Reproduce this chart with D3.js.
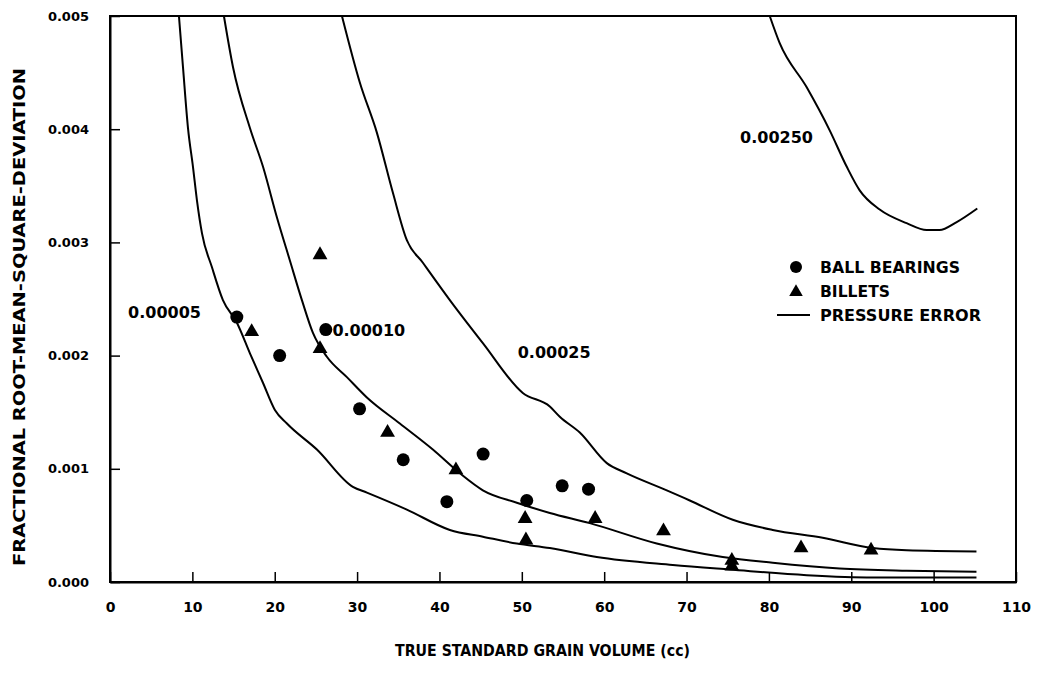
<!DOCTYPE html>
<html>
<head>
<meta charset="utf-8">
<script src="https://cdn.jsdelivr.net/npm/d3@7"></script>
<style>
  html, body { margin: 0; padding: 0; background: #fff; }
  svg { display: block; }
</style>
</head>
<body>
<svg id="chart" width="1039" height="673"></svg>
<script>
// ---------- data ----------
const xTicks = [0, 10, 20, 30, 40, 50, 60, 70, 80, 90, 100, 110];
const yTicks = [0, 0.001, 0.002, 0.003, 0.004, 0.005];
const yTickLabels = ["0.000", "0.001", "0.002", "0.003", "0.004", "0.005"];

const curve00005 = [
  [8.37,0.00500],[8.86,0.00455],[9.47,0.00401],[10.07,0.00367],[10.56,0.00337],[11.17,0.00308],
  [12.38,0.00278],[13.71,0.00249],[15.41,0.00229],[16.99,0.00202],[18.57,0.00176],[20.02,0.00152],
  [21.48,0.00140],[25.12,0.00117],[29.49,0.00084],[31.19,0.00079],[36.04,0.00064],[41.26,0.00046],
  [45.27,0.00040],[49.39,0.00034],[53.40,0.00030],[59.10,0.00022],[68.33,0.00015],[75.24,0.00011],
  [84.59,0.00006],[92.60,0.00004],[105.2,0.00004]
];
const curve00010 = [
  [13.83,0.00500],[14.93,0.00455],[16.99,0.00401],[18.57,0.00367],[20.27,0.00322],[21.84,0.00284],
  [23.30,0.00249],[24.64,0.00220],[26.33,0.00199],[28.76,0.00181],[31.19,0.00163],[35.19,0.00140],
  [39.20,0.00117],[42.48,0.00096],[45.27,0.00081],[49.39,0.00070],[53.40,0.00061],[58.25,0.00052],
  [66.38,0.00034],[74.39,0.00022],[80.46,0.00017],[88.59,0.00012],[96.72,0.00010],[105.2,0.00009]
];
const curve00025 = [
  [28.16,0.00500],[30.34,0.00441],[32.40,0.00397],[34.34,0.00344],[36.04,0.00302],[37.99,0.00282],
  [41.26,0.00249],[45.27,0.00211],[50.12,0.00167],[53.40,0.00155],[54.61,0.00146],[57.04,0.00132],
  [60.32,0.00105],[62.74,0.00096],[67.60,0.00081],[70.39,0.00072],[75.61,0.00055],[80.46,0.00046],
  [86.53,0.00039],[92.60,0.00030],[96.72,0.00028],[105.2,0.00027]
];
const curve00250 = [
  [80.10,0.00500],[81.31,0.00476],[84.59,0.00437],[87.38,0.00399],[89.44,0.00367],[91.02,0.00346],
  [93.45,0.00329],[96.72,0.00317],[99.15,0.00311],[100.7,0.00311],[102.8,0.00318],[105.3,0.00330]
];
const curveNames = ["0.00005", "0.00010", "0.00025", "0.00250"];
const curveLabelPos = [[2.2,0.00233],[27.0,0.00217],[49.5,0.00198],[76.5,0.00388]];

const ballX = [15.4, 20.6, 26.2, 30.3, 35.6, 40.9, 45.3, 50.6, 54.9, 58.1];
const ballY = [0.00234, 0.00200, 0.00223, 0.00153, 0.00108, 0.00071, 0.00113, 0.00072, 0.00085, 0.00082];
const billetX = [17.2, 25.5, 25.5, 33.7, 42.0, 50.4, 50.5, 58.9, 67.2, 75.5, 75.5, 83.9, 92.4];
const billetY = [0.00221, 0.00289, 0.00206, 0.00132, 0.00099, 0.00056, 0.00037, 0.00056, 0.00045, 0.00019, 0.00014, 0.00030, 0.00028];

const legendLabels = ["BALL BEARINGS", "BILLETS", "PRESSURE ERROR"];
const xTitle = "TRUE STANDARD GRAIN VOLUME (cc)";
const yTitle = "FRACTIONAL ROOT-MEAN-SQUARE-DEVIATION";

// ---------- drawing ----------
const svg = d3.select("#chart");
const numFont = "'DejaVu Sans', Verdana, sans-serif";
const condFont = "'DejaVu Sans Condensed', 'DejaVu Sans', sans-serif";

const x = d3.scaleLinear().domain([0, 110]).range([110, 1016]);
const y = d3.scaleLinear().domain([0, 0.005]).range([582, 16]);

// frame
svg.append("rect")
  .attr("x", x(0)).attr("y", y(0.005))
  .attr("width", x(110) - x(0)).attr("height", y(0) - y(0.005))
  .attr("fill", "none").attr("stroke", "#000").attr("stroke-width", 2);

// axes (inward ticks)
const xAxis = d3.axisBottom(x).tickValues(xTicks).tickSizeInner(-10).tickSizeOuter(0).tickPadding(20)
  .tickFormat(d3.format("d"));
const gx = svg.append("g").attr("transform", `translate(0,${y(0)})`).call(xAxis);
gx.select(".domain").attr("stroke-width", 2);
gx.selectAll(".tick line").attr("stroke-width", 1.5);
gx.selectAll(".tick text").attr("font-family", numFont).attr("font-weight", "bold")
  .attr("font-size", 14).attr("fill", "#000");

const yAxis = d3.axisLeft(y).tickValues(yTicks).tickSizeInner(-10).tickSizeOuter(0).tickPadding(21)
  .tickFormat((d, i) => yTickLabels[i]);
const gy = svg.append("g").attr("transform", `translate(${x(0)},0)`).call(yAxis);
gy.select(".domain").attr("stroke-width", 2);
gy.selectAll(".tick line").attr("stroke-width", 1.5);
gy.selectAll(".tick text").attr("font-family", numFont).attr("font-weight", "bold")
  .attr("font-size", 13).attr("fill", "#000");

// axis titles
svg.append("text").attr("x", 395).attr("y", 656)
  .attr("font-family", condFont).attr("font-weight", "bold").attr("font-size", 15)
  .attr("textLength", 295).attr("lengthAdjust", "spacingAndGlyphs")
  .text(xTitle);
svg.append("text").attr("transform", "translate(25,566) rotate(-90)")
  .attr("font-family", condFont).attr("font-weight", "bold").attr("font-size", 15)
  .attr("textLength", 498).attr("lengthAdjust", "spacingAndGlyphs")
  .text(yTitle);

// curves
const line = d3.line().x(d => x(d[0])).y(d => y(d[1])).curve(d3.curveMonotoneX);
const curves = [curve00005, curve00010, curve00025, curve00250];
svg.append("g").selectAll("path").data(curves).join("path")
  .attr("d", line).attr("fill", "none").attr("stroke", "#000").attr("stroke-width", 2);

// curve labels
svg.append("g").selectAll("text").data(curveNames).join("text")
  .attr("x", (d, i) => x(curveLabelPos[i][0]))
  .attr("y", (d, i) => y(curveLabelPos[i][1]))
  .attr("font-family", numFont).attr("font-weight", "bold").attr("font-size", 16)
  .attr("fill", "#000")
  .text(d => d);

// markers
const circleR = 6.5;
svg.append("g").selectAll("circle").data(ballX).join("circle")
  .attr("cx", d => x(d)).attr("cy", (d, i) => y(ballY[i])).attr("r", circleR).attr("fill", "#000");

const tri = d3.symbol().type(d3.symbolTriangle).size(95);
svg.append("g").selectAll("path").data(billetX).join("path")
  .attr("d", tri)
  .attr("transform", (d, i) => `translate(${x(d)},${y(billetY[i])})`)
  .attr("fill", "#000");

// legend
const lg = svg.append("g");
lg.append("circle").attr("cx", 796).attr("cy", 267).attr("r", 6).attr("fill", "#000");
lg.append("path").attr("d", d3.symbol().type(d3.symbolTriangle).size(80))
  .attr("transform", "translate(796,292)").attr("fill", "#000");
lg.append("line").attr("x1", 777).attr("x2", 810).attr("y1", 315).attr("y2", 315)
  .attr("stroke", "#000").attr("stroke-width", 2);
const legW = [140, 70, 161];
lg.selectAll("text").data(legendLabels).join("text")
  .attr("x", 820).attr("y", (d, i) => 273 + i * 24)
  .attr("font-family", condFont).attr("font-weight", "bold").attr("font-size", 16)
  .attr("textLength", (d, i) => legW[i]).attr("lengthAdjust", "spacingAndGlyphs")
  .text(d => d);
</script>
</body>
</html>
